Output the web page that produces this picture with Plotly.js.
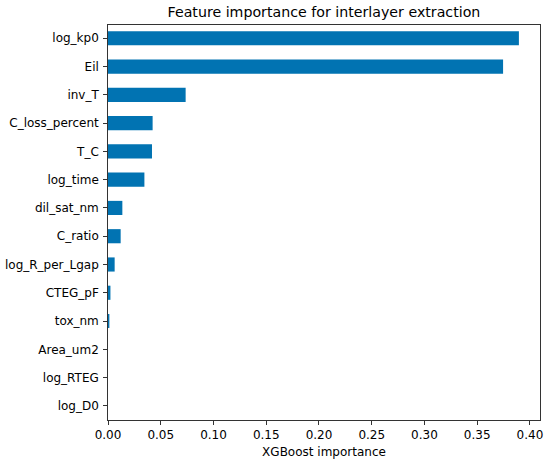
<!DOCTYPE html>
<html>
<head>
<meta charset="utf-8">
<script src="https://cdn.plot.ly/plotly-3.0.1.min.js"></script>
<style>html,body{margin:0;padding:0;background:#fff;}#chart{width:550px;height:465px;}</style>
</head>
<body>
<div id="chart"></div>
<script>
var features = ["log_kp0","Eil","inv_T","C_loss_percent","T_C","log_time","dil_sat_nm","C_ratio","log_R_per_Lgap","CTEG_pF","tox_nm","Area_um2","log_RTEG","log_D0"];
var importance = [0.3895,0.3745,0.0736,0.0423,0.0417,0.0345,0.0136,0.0120,0.0063,0.0023,0.0013,0.0,0.0,0.0];
var xTicks = [0,0.05,0.10,0.15,0.20,0.25,0.30,0.35,0.40];
var xTickText = ["0.00","0.05","0.10","0.15","0.20","0.25","0.30","0.35","0.40"];

var font = "DejaVu Sans, sans-serif";
var trace = {
  type: "bar",
  orientation: "h",
  x: importance,
  y: features,
  width: 0.5,
  marker: {color: "#0173B2", line: {width: 0}},
  hoverinfo: "x+y"
};
var layout = {
  width: 550, height: 465,
  margin: {l: 108, r: 9.5, t: 25, b: 45},
  paper_bgcolor: "#fff", plot_bgcolor: "#fff",
  showlegend: false,
  font: {family: font, size: 12, color: "#000"},
  title: {text: "Feature importance for interlayer extraction", font: {family: font, size: 14.2, color: "#000"}, x: 0.589, xanchor: "center", y: 0.985, yanchor: "top"},
  xaxis: {
    range: [0, 0.4095], tickvals: xTicks, ticktext: xTickText,
    ticks: "outside", ticklen: 4, tickwidth: 0.8, tickcolor: "#000",
    showline: true, linecolor: "#000", linewidth: 0.8, mirror: true,
    showgrid: false, zeroline: false,
    tickfont: {family: font, size: 12, color: "#000"},
    title: {text: "XGBoost importance", font: {family: font, size: 12, color: "#000"}, standoff: 6}
  },
  yaxis: {
    type: "category", range: [13.5, -0.47],
    ticks: "outside", ticklen: 4, tickwidth: 0.8, tickcolor: "#000",
    showline: true, linecolor: "#000", linewidth: 0.8, mirror: true,
    showgrid: false, zeroline: false, ticklabelstandoff: 2,
    tickfont: {family: font, size: 12, color: "#000"}
  },
  bargap: 0.5
};
Plotly.newPlot("chart", [trace], layout, {displayModeBar: false, staticPlot: true});
</script>
</body>
</html>
